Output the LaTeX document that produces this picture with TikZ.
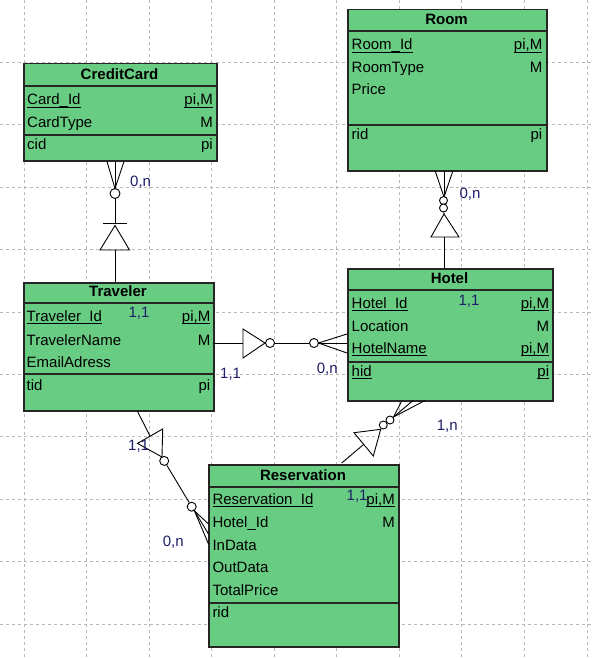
\documentclass[tikz,border=0pt]{standalone}
\usepackage{fontspec}
\setmainfont{Liberation Sans}
\definecolor{entgreen}{RGB}{104,205,130}
\definecolor{cardblue}{RGB}{30,30,105}
\newcommand\myul[1]{\setbox0=\hbox{#1}\rlap{\rule[-2.6pt]{\wd0}{1pt}}\box0}
\begin{document}
\begin{tikzpicture}[x=1pt,y=-1pt,
  font=\fontsize{15}{18}\selectfont,
  gridln/.style={draw=gray!55, line width=0.8pt, dash pattern=on 3pt off 3pt},
  ent/.style={rectangle, draw=black!85, line width=1.5pt, fill=entgreen, anchor=north west, inner sep=0},
  sepline/.style={draw=black!85, line width=1.5pt},
  ttl/.style={font=\fontsize{15}{18}\selectfont\bfseries, anchor=base, inner sep=0},
  attl/.style={anchor=base west, inner sep=0},
  attr/.style={anchor=base east, inner sep=0},
  card/.style={text=cardblue, anchor=base west, inner sep=0},
  conn/.style={draw=black, line width=0.9pt},
  circ/.style={circle, draw=black, line width=0.9pt, fill=white, minimum size=9pt, inner sep=0}]
\fill[white] (0,0) rectangle (592,658);
\useasboundingbox (0,0) rectangle (592,658);
% grid
\foreach \k in {0,...,9} \draw[gridln] ({23.9+62.57*\k},0) -- ({23.9+62.57*\k},658);
\foreach \k in {1,...,10} \draw[gridln] (0,{62.4*\k}) -- (592,{62.4*\k});

% ---------- CreditCard
\node[ent, minimum width=193pt, minimum height=97pt] (cc) at (23,63) {};
\draw[sepline] (23,86) -- (216,86);
\draw[sepline] (23,135) -- (216,135);
\node[ttl] (cct) at (119.5,79.5) {CreditCard};
\node[attl] (cc1) at (27,105) {\myul{Card\_Id}};
\node[attr] (cc1r) at (213,105) {\myul{pi,M}};
\node[attl] (cc2) at (27,127.7) {CardType};
\node[attr] (cc2r) at (213,127.7) {M};
\node[attl] (cc3) at (27,149.3) {cid};
\node[attr] (cc3r) at (213,149.3) {pi};

% ---------- Room
\node[ent, minimum width=199pt, minimum height=161pt] (rm) at (347,9) {};
\draw[sepline] (347,31) -- (546,31);
\draw[sepline] (347,125) -- (546,125);
\node[ttl] (rmt) at (446.5,24.5) {Room};
\node[attl] (rm1) at (351.5,50) {\myul{Room\_Id}};
\node[attr] (rm1r) at (542.5,50) {\myul{pi,M}};
\node[attl] (rm2) at (351.5,72.7) {RoomType};
\node[attr] (rm2r) at (542.5,72.7) {M};
\node[attl] (rm3) at (351.5,94.3) {Price};
\node[attl] (rm4) at (351.5,139.3) {rid};
\node[attr] (rm4r) at (542.5,139.3) {pi};

% ---------- Traveler
\node[ent, minimum width=190pt, minimum height=128pt] (tr) at (23,282) {};
\draw[sepline] (23,303) -- (213,303);
\draw[sepline] (23,374) -- (213,374);
\node[ttl] (trt) at (118,296.7) {Traveler};
\node[attl] (tr1) at (26.5,321.7) {\myul{Traveler\_Id}};
\node[attr] (tr1r) at (210.5,321.7) {\myul{pi,M}};
\node[attl] (tr2) at (26.5,345) {TravelerName};
\node[attr] (tr2r) at (210.5,345) {M};
\node[attl] (tr3) at (26.5,367.3) {EmailAdress};
\node[attl] (tr4) at (26.5,390) {tid};
\node[attr] (tr4r) at (210.5,390) {pi};
\node[card] (trc) at (128.3,317.7) {1,1};

% ---------- Hotel
\node[ent, minimum width=205pt, minimum height=132pt] (ht) at (347,268) {};
\draw[sepline] (347,290) -- (552,290);
\draw[sepline] (347,362) -- (552,362);
\node[ttl] (htt) at (449.5,283.3) {Hotel};
\node[attl] (ht1) at (351.5,308.3) {\myul{Hotel\_Id}};
\node[attr] (ht1r) at (549.3,308.3) {\myul{pi,M}};
\node[attl] (ht2) at (351.5,331) {Location};
\node[attr] (ht2r) at (549.3,331) {M};
\node[attl] (ht3) at (351.5,353.3) {\myul{HotelName}};
\node[attr] (ht3r) at (549.3,353.3) {\myul{pi,M}};
\node[attl] (ht4) at (351.5,376) {\myul{hid}};
\node[attr] (ht4r) at (549.3,376) {\myul{pi}};
\node[card] (htc) at (458.3,305) {1,1};

% ---------- Reservation
\node[ent, minimum width=190pt, minimum height=182pt] (rs) at (208,464) {};
\draw[sepline] (208,487) -- (398,487);
\draw[sepline] (208,603) -- (398,603);
\node[ttl] (rst) at (303,480) {Reservation};
\node[attl] (rs1) at (212.3,504.3) {\myul{Reservation\_Id}};
\node[attr] (rs1r) at (395,504.3) {\myul{pi,M}};
\node[attl] (rs2) at (212.3,527.3) {Hotel\_Id};
\node[attr] (rs2r) at (395,527.3) {M};
\node[attl] (rs3) at (212.3,550) {InData};
\node[attl] (rs4) at (212.3,572.3) {OutData};
\node[attl] (rs5) at (212.3,595) {TotalPrice};
\node[attl] (rs6) at (212.3,617.3) {rid};
\node[card] (rsc) at (346.5,500) {1,1};

% ---------- connector CreditCard - Traveler
\coordinate (a1l) at (107,161.5);
\coordinate (a1m) at (115,161.5);
\coordinate (a1r) at (124,161.5);
\coordinate (a1f) at (115,188.5);
\node[circ, minimum size=10pt] (o1) at (115,193.5) {};
\coordinate (b1) at (115,223);
\coordinate (b1l) at (103,223);
\coordinate (b1r) at (127,223);
\coordinate (t1a) at (115,225.5);
\coordinate (t1b) at (100,250);
\coordinate (t1c) at (129.5,250);
\coordinate (t1m) at (115,250);
\coordinate (t1e) at (115,282);
\draw[conn] (a1l) -- (a1f) -- (a1r);
\draw[conn] (a1m) -- (a1f);
\draw[conn] (o1) -- (b1);
\draw[conn] (b1l) -- (b1r);
\draw[conn] (t1a) -- (t1b) -- (t1c) -- cycle;
\draw[conn] (t1m) -- (t1e);
\node[card] (l1) at (130,186) {0,n};

% ---------- connector Room - Hotel
\coordinate (a2l) at (435,170.5);
\coordinate (a2m) at (444,170.5);
\coordinate (a2r) at (453,170.5);
\coordinate (a2f) at (444,197);
\draw[conn] (a2l) -- (a2f) -- (a2r);
\draw[conn] (a2m) -- (a2f);
\node[circ, minimum size=8pt] (o2a) at (443.5,200.5) {};
\node[circ, minimum size=8pt] (o2b) at (443.5,208) {};
\coordinate (t2a) at (444,214);
\coordinate (t2b) at (431,237);
\coordinate (t2c) at (459,237);
\coordinate (t2m) at (444,237);
\coordinate (t2e) at (444,268);
\draw[conn] (o2b) -- (t2a);
\draw[conn] (t2a) -- (t2b) -- (t2c) -- cycle;
\draw[conn] (t2m) -- (t2e);
\node[card] (l2) at (459.3,198) {0,n};

% ---------- connector Traveler - Hotel
\coordinate (s3) at (213,343);
\coordinate (t3m) at (243,343);
\coordinate (t3b) at (243,329);
\coordinate (t3c) at (243,358);
\coordinate (t3a) at (265,343);
\node[circ] (o3a) at (270,343) {};
\node[circ] (o3b) at (314,343) {};
\coordinate (a3f) at (318.5,343);
\coordinate (a3l) at (347,334);
\coordinate (a3m) at (347,343);
\coordinate (a3r) at (347,353);
\draw[conn] (s3) -- (t3m);
\draw[conn] (t3a) -- (t3b) -- (t3c) -- cycle;
\draw[conn] (o3a) -- (o3b);
\draw[conn] (a3l) -- (a3f) -- (a3r);
\draw[conn] (a3m) -- (a3f);
\node[card] (l3a) at (220,378) {1,1};
\node[card] (l3b) at (316.7,373) {0,n};

% ---------- connector Traveler - Reservation
\coordinate (s4) at (137.3,411);
\coordinate (t4m) at (150.1,436.2);
\coordinate (t4b) at (162.7,429);
\coordinate (t4c) at (137.5,443.4);
\coordinate (t4a) at (162,457);
\node[circ] (o4a) at (164.2,460.9) {};
\node[circ] (o4b) at (191.7,506.7) {};
\coordinate (a4f) at (194.5,511);
\coordinate (a4l) at (208.5,524);
\coordinate (a4m) at (208.5,534);
\coordinate (a4r) at (208.5,544);
\draw[conn] (s4) -- (t4m);
\draw[conn] (t4a) -- (t4b) -- (t4c) -- cycle;
\draw[conn] (o4a) -- (o4b);
\draw[conn] (a4l) -- (a4f) -- (a4r);
\draw[conn] (a4m) -- (a4f);
\node[card] (l4a) at (128,450) {1,1};
\node[card] (l4b) at (162.7,546.7) {0,n};

% ---------- connector Hotel - Reservation
\coordinate (s5) at (341.7,463);
\coordinate (t5m) at (363.7,444.4);
\coordinate (t5b) at (354,432.7);
\coordinate (t5c) at (373.3,456);
\coordinate (t5a) at (380.7,429.3);
\node[circ, minimum size=8pt] (o5a) at (383.3,425) {};
\node[circ, minimum size=8pt] (o5b) at (390,420) {};
\coordinate (a5f) at (393.5,417);
\coordinate (a5l) at (402,400.5);
\coordinate (a5m) at (413,400.5);
\coordinate (a5r) at (425,400.5);
\draw[conn] (s5) -- (t5m);
\draw[conn] (t5a) -- (t5b) -- (t5c) -- cycle;
\draw[conn] (a5l) -- (a5f) -- (a5r);
\draw[conn] (a5m) -- (a5f);
\node[card] (l5) at (436.7,430.7) {1,n};
\end{tikzpicture}
\end{document}
